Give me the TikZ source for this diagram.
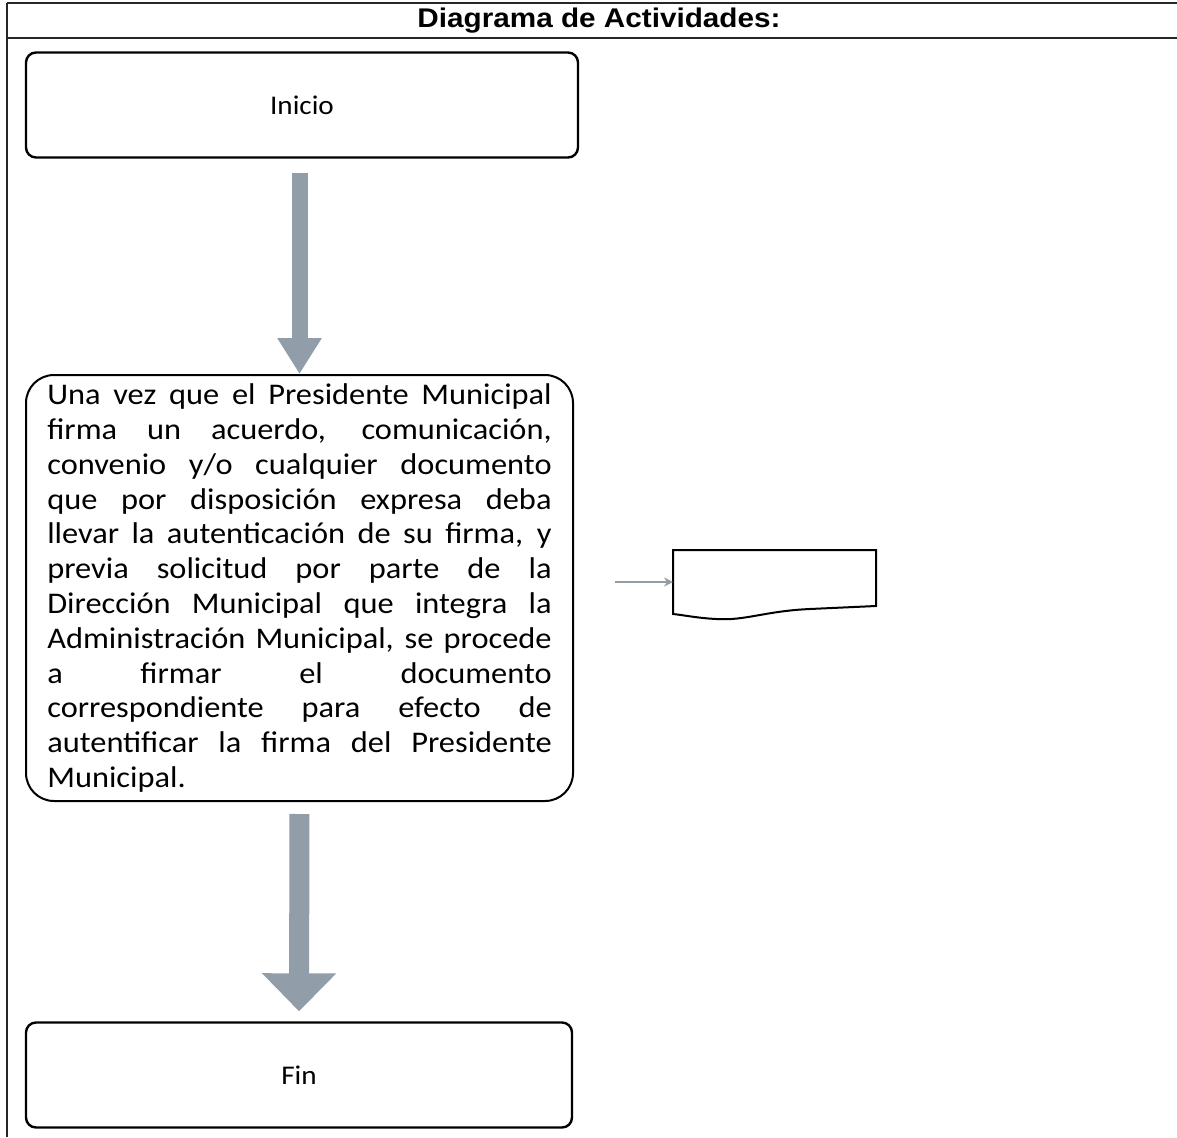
\documentclass[tikz,border=0pt]{standalone}
\usepackage{fontspec}
\setmainfont{Carlito}
\newfontfamily\titlefont{Liberation Sans}
\usetikzlibrary{arrows.meta}
\definecolor{arrowgray}{HTML}{919DA8}
\newcommand{\hstretch}[1]{\scalebox{1.08}[1]{#1}}
\newcommand{\jline}[1]{\makebox[467pt][s]{#1}}
\begin{document}
\begin{tikzpicture}[x=1pt,y=-1pt,
  frameline/.style={line width=1.4pt, black!85},
  termbox/.style={draw, line width=2.4pt, rounded corners=10pt,
    minimum width=550pt, minimum height=105pt, inner sep=0pt,
    font=\fontsize{27}{32}\selectfont},
  actbox/.style={draw, line width=2pt, rounded corners=28pt,
    minimum width=547pt, minimum height=426pt, inner sep=0pt},
  flowarrow/.style={draw=none, fill=arrowgray},
  smallarrow/.style={arrowgray, line width=1.8pt,
    -{Stealth[length=9pt,width=9pt]}}]

\useasboundingbox (0,0) rectangle (1177,1137);

% table frame with title row
\draw[frameline] (7,3) -- (1177,3);
\draw[frameline] (7,38) -- (1177,38);
\draw[frameline] (7,3) -- (7,1137);
\node (title) at (599,21)
  {\scalebox{1.1}[1]{\titlefont\bfseries\fontsize{27}{30}\selectfont Diagrama de Actividades:}};

% activity flow
\node[termbox, minimum width=552pt] (inicio) at (302,105) {\hstretch{Inicio}};

\node[actbox] (act) at (299.5,588) {\hstretch{\parbox{467pt}{\fontsize{30}{34.8}\selectfont
\jline{Una vez que el Presidente Municipal}\\
\jline{firma un acuerdo, comunicación,}\\
\jline{convenio y/o cualquier documento}\\
\jline{que por disposición expresa deba}\\
\jline{llevar la autenticación de su firma, y}\\
\jline{previa solicitud por parte de la}\\
\jline{Dirección Municipal que integra la}\\
\jline{Administración Municipal, se procede}\\
\jline{a firmar el documento}\\
\jline{correspondiente para efecto de}\\
\jline{autentificar la firma del Presidente}\\
Municipal.}}};

\node[termbox, minimum width=546pt] (fin) at (299,1075) {\hstretch{Fin}};

% block arrows between the steps
\draw[arrowgray, line width=16pt, shorten <=14pt,
  -{Triangle[length=36pt,width=42pt]}]
  (act.north |- inicio.south) -- (act.north);
\draw[arrowgray, line width=20pt, shorten <=12pt, shorten >=10pt,
  -{Triangle[length=38pt,width=72pt]}]
  (act.south) -- (fin.north);

% document symbol with incoming arrow
\draw[line width=2pt] (673,550) -- (876,550) -- (876,606)
  -- (810,609) .. controls (765,611) and (745,621) .. (716,619)
  .. controls (697,618) and (683,615) .. (673,614) -- cycle;
\coordinate (docin) at (673,582);
\coordinate (docsrc) at (615,582);
\draw[smallarrow] (docsrc) -- (docin);
\end{tikzpicture}
\end{document}
